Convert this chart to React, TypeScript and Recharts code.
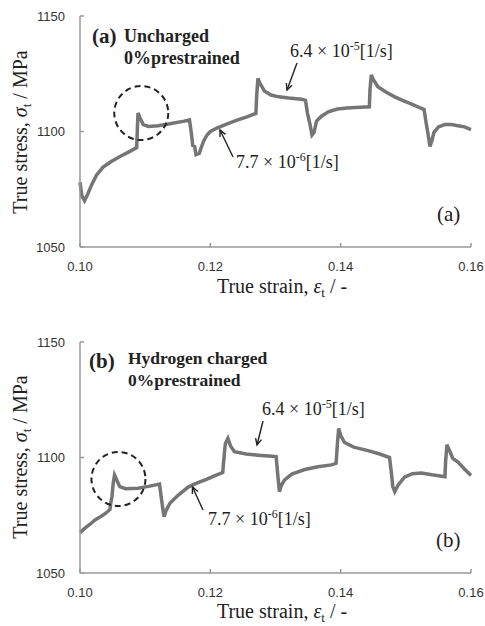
import React from 'react';
import { LineChart, Line, XAxis, YAxis, ReferenceDot } from 'recharts';

// panel (a): uncharged, 0% prestrained
const strainA = [
  0.1, 0.1003, 0.1007, 0.1012, 0.1018, 0.1025, 0.1035, 0.1048, 0.106, 0.1075, 0.1087, 0.1088, 0.1089,
  0.1092, 0.1097, 0.1105, 0.112, 0.114, 0.116, 0.1168, 0.1171, 0.1173, 0.1176, 0.1178, 0.1183, 0.1186,
  0.119, 0.1195, 0.12, 0.121, 0.1225, 0.124, 0.1255, 0.127, 0.1271, 0.1273, 0.1276, 0.1283, 0.1293,
  0.1305, 0.132, 0.134, 0.1346, 0.1349, 0.1353, 0.1356, 0.1359, 0.1363, 0.137, 0.1381, 0.1395, 0.141,
  0.143, 0.1444, 0.1445, 0.1447, 0.145, 0.1457, 0.147, 0.1483, 0.1495, 0.1508, 0.152, 0.1528, 0.1531,
  0.1534, 0.1537, 0.154, 0.1543, 0.155, 0.156, 0.157, 0.158, 0.159, 0.16,
];
const stressA = [
  1078, 1072, 1070, 1073, 1077, 1081, 1084.5, 1087, 1089, 1091.2, 1093, 1101, 1108,
  1106, 1103, 1102.2, 1102.5, 1103.5, 1104.5, 1105, 1099, 1094, 1093.5, 1090, 1090.5, 1093,
  1096, 1098.5, 1100, 1101.5, 1103.2, 1104.8, 1106.2, 1107.8, 1115, 1123, 1121, 1117.5, 1115.8,
  1115, 1114.5, 1114, 1113.5, 1108, 1103, 1098.5, 1099.5, 1104.5, 1106.5, 1108.5, 1109.7, 1110.2,
  1110.5, 1110.7, 1118, 1124.5, 1122.5, 1119.4, 1117, 1115, 1113.5, 1112, 1110.5, 1109.5, 1104,
  1099, 1093.5, 1096, 1099.5, 1102, 1103, 1103, 1102.5, 1102, 1100.8,
];

// panel (b): hydrogen charged, 0% prestrained
const strainB = [
  0.1, 0.1008, 0.1015, 0.1023, 0.1032, 0.104, 0.1046, 0.1047, 0.1049, 0.1051, 0.1053, 0.1056, 0.1061,
  0.107, 0.1089, 0.1105, 0.1122, 0.1125, 0.1128, 0.1129, 0.1132, 0.1138, 0.115, 0.1166, 0.118, 0.1194,
  0.121, 0.1219, 0.1221, 0.1223, 0.1227, 0.1231, 0.1237, 0.1255, 0.1273, 0.129, 0.1301, 0.1303, 0.1306,
  0.1309, 0.1314, 0.1325, 0.1345, 0.1365, 0.1386, 0.1393, 0.1395, 0.1397, 0.14, 0.1406, 0.142, 0.1442,
  0.146, 0.1475, 0.1478, 0.148, 0.1483, 0.1488, 0.1498, 0.151, 0.1524, 0.154, 0.156, 0.1561, 0.1563,
  0.1567, 0.1572, 0.158, 0.159, 0.16,
];
const stressB = [
  1067.5, 1069.5, 1071, 1073, 1074.5, 1076, 1077.5, 1080, 1083, 1089, 1092.4, 1090.5, 1087.4,
  1086.5, 1086.7, 1087.5, 1088.5, 1082, 1076, 1074.4, 1077, 1080.2, 1083.5, 1087.2, 1089, 1090.5,
  1092.5, 1093.5, 1100, 1106, 1108.3, 1105, 1102.5, 1101.5, 1101, 1100.6, 1100.4, 1094, 1085.2,
  1088, 1090.3, 1092.8, 1094.8, 1096, 1096.8, 1097.5, 1106, 1112.6, 1109.5, 1106.5, 1104.5, 1103,
  1101.5, 1100, 1093, 1087.4, 1085.2, 1088, 1091.5, 1093, 1093.3, 1092.5, 1091.7, 1098, 1105.5,
  1103, 1099.6, 1098, 1095, 1092.2,
];

const strainTicks = [0.1, 0.12, 0.14, 0.16];
const stressTicks = [1050, 1100, 1150];

// dashed circles around the first yield drop
const circleA = { x: 0.1094, y: 1108 };
const circleB = { x: 0.1059, y: 1090.7 };

const serif = '"Liberation Serif", "Times New Roman", serif';
const sans = '"Liberation Sans", Arial, sans-serif';
const ink = '#222';

const toRows = (xs: number[], ys: number[]) => xs.map((x, i) => ({ strain: x, stress: ys[i] }));

interface PanelProps {
  rows: { strain: number; stress: number }[];
  height: number;
  bottom: number;
  circle: { x: number; y: number };
}

const Panel: React.FC<PanelProps> = ({ rows, height, bottom, circle }) => (
  <LineChart width={485} height={height} data={rows} margin={{ top: 16, right: 14, left: 0, bottom }}>
    <XAxis
      type="number"
      dataKey="strain"
      domain={[0.1, 0.16]}
      ticks={strainTicks}
      tickFormatter={(v: number) => v.toFixed(2)}
      height={40}
      stroke="#999"
      strokeWidth={1.5}
      tickSize={-4}
      tickMargin={19}
      tick={{ fill: '#333', fontSize: 13, fontFamily: sans }}
    />
    <YAxis
      type="number"
      domain={[1050, 1150]}
      ticks={stressTicks}
      width={80}
      stroke="#999"
      strokeWidth={1.5}
      tickSize={-4}
      tickMargin={19}
      tick={{ fill: '#333', fontSize: 13, fontFamily: sans }}
    />
    <Line
      type="linear"
      dataKey="stress"
      stroke="#757575"
      strokeWidth={3.5}
      dot={false}
      isAnimationActive={false}
    />
    <ReferenceDot
      x={circle.x}
      y={circle.y}
      r={27}
      fill="none"
      stroke={ink}
      strokeWidth={2}
      strokeDasharray="6 4"
    />
  </LineChart>
);

const Rate: React.FC<{ x: number; y: number; lead: string; exp: string }> = ({ x, y, lead, exp }) => (
  <text x={x} y={y} fontFamily={serif} fontSize={18} fill={ink}>
    {lead} × 10
    <tspan fontSize={12} dy={-7}>
      {exp}
    </tspan>
    <tspan dy={7}>[1/s]</tspan>
  </text>
);

const Arrow: React.FC<{ x1: number; y1: number; x2: number; y2: number }> = ({ x1, y1, x2, y2 }) => {
  const a = Math.atan2(y2 - y1, x2 - x1);
  const h = 7;
  const p1 = [x2 - h * Math.cos(a - 0.45), y2 - h * Math.sin(a - 0.45)];
  const p2 = [x2 - h * Math.cos(a + 0.45), y2 - h * Math.sin(a + 0.45)];
  return (
    <g stroke={ink} strokeWidth={1.4} fill="none">
      <line x1={x1} y1={y1} x2={x2} y2={y2} />
      <polyline points={`${p1[0]},${p1[1]} ${x2},${y2} ${p2[0]},${p2[1]}`} />
    </g>
  );
};

const XTitle: React.FC<{ y: number }> = ({ y }) => (
  <text x={282} y={y} textAnchor="middle" fontFamily={serif} fontSize={20} fill={ink}>
    True strain,{' '}
    <tspan fontStyle="italic">ε</tspan>
    <tspan fontSize={13} dy={4}>t</tspan>
    <tspan dy={-4}> / -</tspan>
  </text>
);

const YTitle: React.FC<{ cy: number }> = ({ cy }) => (
  <text
    x={27}
    y={cy}
    transform={`rotate(-90, 27, ${cy})`}
    textAnchor="middle"
    fontFamily={serif}
    fontSize={20}
    fill={ink}
  >
    True stress,{' '}
    <tspan fontStyle="italic">σ</tspan>
    <tspan fontSize={13} dy={4}>t</tspan>
    <tspan dy={-4}> / MPa</tspan>
  </text>
);

export default function App() {
  const rowsA = toRows(strainA, stressA);
  const rowsB = toRows(strainB, stressB);
  return (
    <div style={{ position: 'absolute', left: 0, top: 0, width: 485, height: 626, background: '#fff', overflow: 'hidden' }}>
      <div style={{ position: 'absolute', left: 0, top: 0 }}>
        <Panel rows={rowsA} height={310} bottom={23} circle={circleA} />
      </div>
      <div style={{ position: 'absolute', left: 0, top: 326 }}>
        <Panel rows={rowsB} height={300} bottom={13} circle={circleB} />
      </div>
      <svg
        width={485}
        height={626}
        style={{ position: 'absolute', left: 0, top: 0, pointerEvents: 'none' }}
      >
        {/* panel (a) */}
        <text x={92} y={43} fontFamily={serif} fontSize={21} fontWeight="bold" fill={ink}>(a)</text>
        <text x={124} y={42} fontFamily={serif} fontSize={18} fontWeight="bold" fill={ink}>Uncharged</text>
        <text x={124} y={64} fontFamily={serif} fontSize={18} fontWeight="bold" fill={ink}>0%prestrained</text>
        <Rate x={290} y={57} lead="6.4" exp="-5" />
        <Arrow x1={297} y1={63} x2={287} y2={90} />
        <Rate x={236} y={168} lead="7.7" exp="-6" />
        <Arrow x1={233} y1={157} x2={220} y2={130} />
        <text x={437} y={221} fontFamily={serif} fontSize={21} fill={ink}>(a)</text>
        <XTitle y={293} />
        <YTitle cy={132} />

        {/* panel (b) */}
        <text x={89} y={368} fontFamily={serif} fontSize={21} fontWeight="bold" fill={ink}>(b)</text>
        <text x={128} y={364} fontFamily={serif} fontSize={17.5} fontWeight="bold" fill={ink}>Hydrogen charged</text>
        <text x={128} y={386} fontFamily={serif} fontSize={17.5} fontWeight="bold" fill={ink}>0%prestrained</text>
        <Rate x={262} y={415} lead="6.4" exp="-5" />
        <Arrow x1={263} y1={421} x2={257} y2={445} />
        <Rate x={208} y={525} lead="7.7" exp="-6" />
        <Arrow x1={203} y1={510} x2={192.5} y2={487} />
        <text x={436} y={547} fontFamily={serif} fontSize={21} fill={ink}>(b)</text>
        <XTitle y={618} />
        <YTitle cy={457} />
      </svg>
    </div>
  );
}
